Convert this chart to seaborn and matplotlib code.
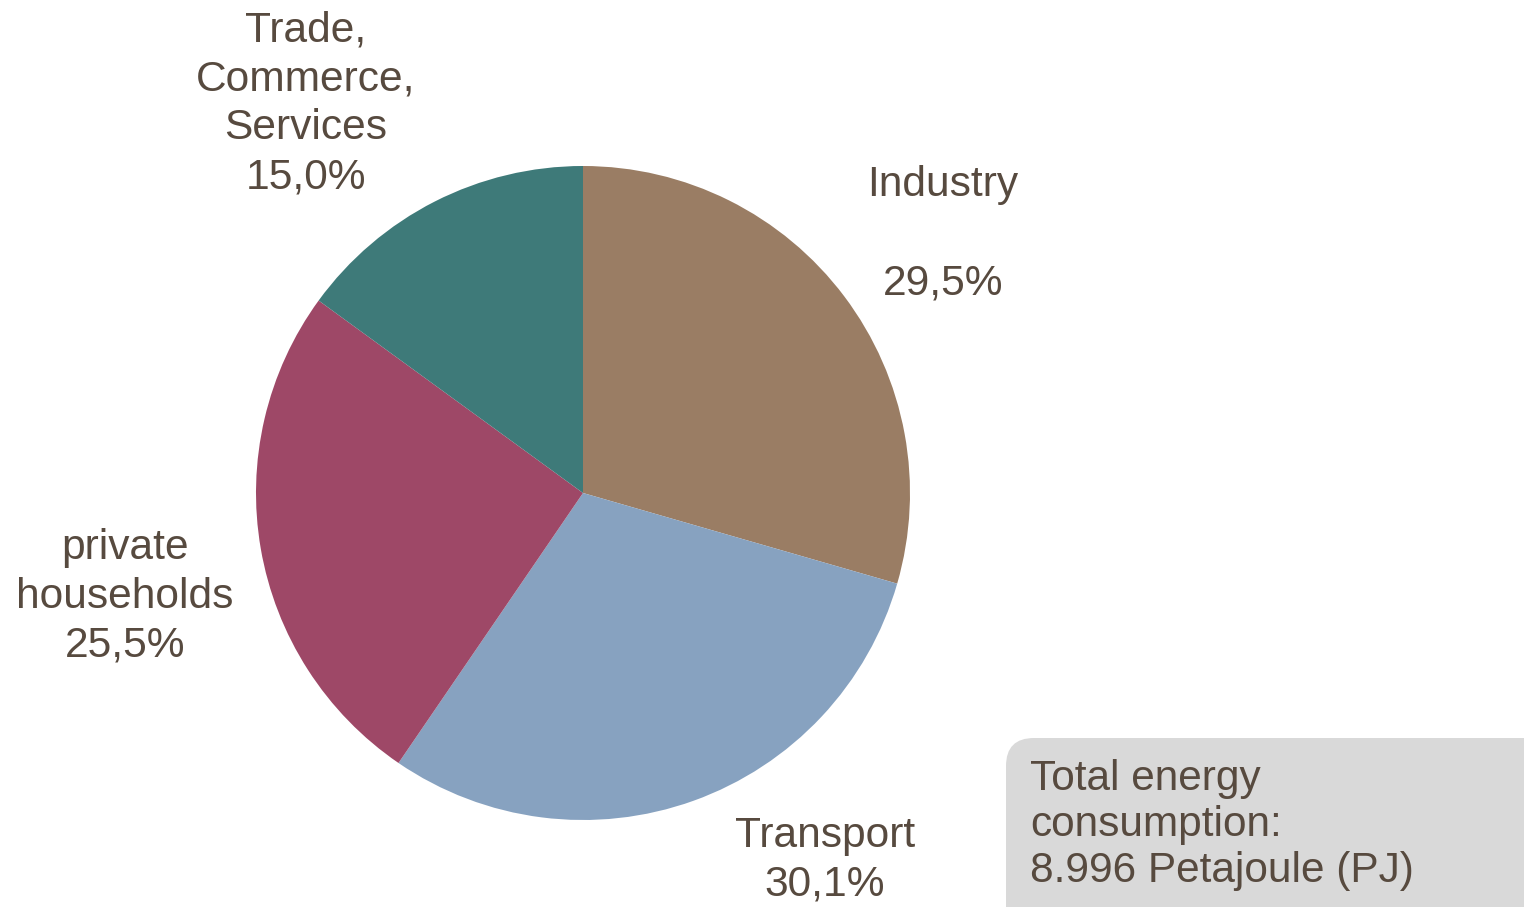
import matplotlib
matplotlib.use("Agg")
import matplotlib.pyplot as plt
import seaborn as sns
from matplotlib.patches import FancyBboxPatch

sns.set_theme(style="white")
plt.rcParams['font.family'] = ['Liberation Sans', 'DejaVu Sans']

# Data
sectors = ["Industry", "Transport", "private\nhouseholds", "Trade,\nCommerce,\nServices"]
shares = [29.5, 30.1, 25.5, 15.0]
share_labels = ["29,5%", "30,1%", "25,5%", "15,0%"]
colors = ["#9A7D64", "#87A2C0", "#9E4867", "#3E7A79"]
total_text = "Total energy\nconsumption:\n8.996 Petajoule (PJ)"

TXT = "#574A3F"
W, H = 1524, 907

fig = plt.figure(figsize=(W / 100, H / 100), dpi=100)
ax = fig.add_axes([0, 0, 1, 1])

ax.pie(shares, colors=colors, startangle=90, counterclock=False,
       center=(583, H - 493), radius=327, frame=True,
       wedgeprops=dict(linewidth=0))
ax.set_xlim(0, W)
ax.set_ylim(0, H)
ax.set_aspect("equal")
ax.axis("off")

fs = 30.6
ls = 1.28
# label layout (pixel coords from top)
ax.text(943, H - 185, sectors[0], ha="center", va="center", fontsize=fs, color=TXT)
ax.text(943, H - 284, share_labels[0], ha="center", va="center", fontsize=fs, color=TXT)
ax.text(825, H - 860, sectors[1] + "\n" + share_labels[1], ha="center", va="center",
        fontsize=fs, color=TXT, linespacing=ls)
ax.text(125, H - 597, sectors[2] + "\n" + share_labels[2], ha="center", va="center",
        fontsize=fs, color=TXT, linespacing=ls)
ax.text(306, H - 104, sectors[3] + "\n" + share_labels[3], ha="center", va="center",
        fontsize=fs, color=TXT, linespacing=ls)

box = FancyBboxPatch((1006, H - 960), 560, 222,
                     boxstyle="round,pad=0,rounding_size=28",
                     facecolor="#D9D9D9", edgecolor="none", clip_on=False)
ax.add_patch(box)
ax.text(1030, H - 825, total_text, ha="left", va="center", fontsize=30.5,
        color=TXT, linespacing=1.19)

fig.savefig("out.png", dpi=100)
